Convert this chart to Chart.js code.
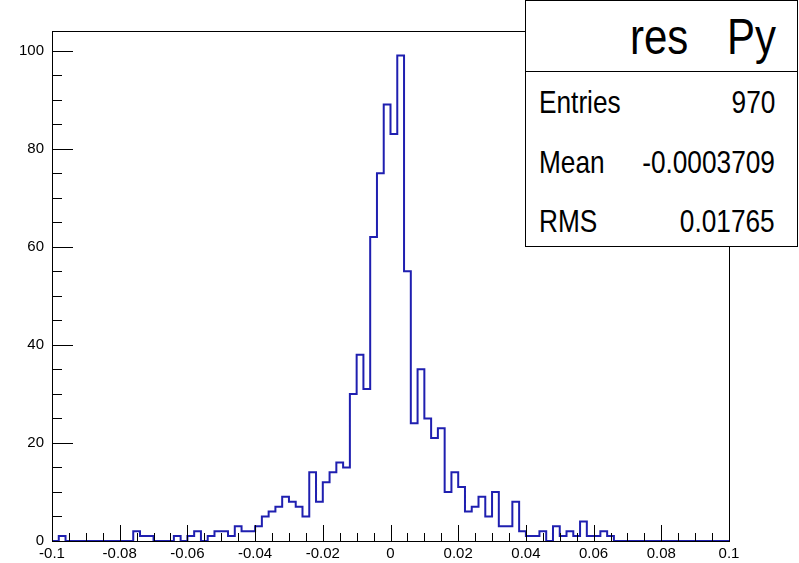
<!DOCTYPE html>
<html lang="en">
<head>
    <meta charset="UTF-8">
    <title>res Py</title>
    <script src="https://cdn.jsdelivr.net/npm/chart.js"></script>
    <style>
        body { margin: 0; background: #fff; }
        #wrap { position: relative; width: 799px; height: 563px; overflow: hidden; }
        #stats {
            position: absolute; left: 525px; top: 0px; width: 273px; height: 247px;
            background: #fff; border: 1px solid #000; box-sizing: border-box;
            font-family: "Liberation Sans", Arial, sans-serif;
            color: #000;
        }
        #stats div { position: absolute; line-height: 1; white-space: nowrap; }
        #stats .sep { left: 0; right: 0; top: 70px; height: 0; border-top: 1px solid #000; }
        #stats .title { font-size: 50px; top: 11px; transform: scaleX(0.84); transform-origin: left center; }
        #stats .row { font-size: 32px; transform: scaleX(0.82); }
        #stats .lab { left: 13px; transform-origin: left center; }
        #stats .val { right: 22px; transform-origin: right center; }
    </style>
</head>
<body>
<div id="wrap">
    <canvas id="histo" width="799" height="563"></canvas>
    <div id="stats"></div>
</div>

<script>
    // histogram binning: 100 bins from -0.1 to 0.1
    const xMin = -0.1;
    const xMax = 0.1;
    const binWidth = 0.002;
    const yMax = 104;

    // bin contents
    const counts = [
        0, 1, 0, 0, 0, 0, 0, 0, 0, 0,
        0, 0, 2, 1, 1, 0, 0, 0, 1, 0,
        1, 2, 0, 1, 2, 2, 1, 3, 2, 2,
        3, 5, 6, 7, 9, 8, 7, 5, 14, 8,
        12, 14, 16, 15, 30, 38, 31, 62, 75, 89,
        83, 99, 55, 24, 35, 25, 21, 23, 10, 14,
        11, 6, 7, 9, 5, 10, 3, 3, 8, 2,
        1, 1, 2, 0, 3, 1, 2, 1, 4, 1,
        1, 2, 1, 0, 0, 0, 0, 0, 0, 0,
        0, 0, 0, 0, 0, 0, 0, 0, 0, 0
    ];

    // stats box
    const histTitle = ['res', 'Py'];
    const statLabels = ['Entries', 'Mean', 'RMS'];
    const statValues = ['970', '-0.0003709', '0.01765'];

    // build the stats box
    const stats = document.getElementById('stats');
    stats.innerHTML =
        `<div class="title" style="left:104px">${histTitle[0]}</div>` +
        `<div class="title" style="left:201px">${histTitle[1]}</div>` +
        `<div class="sep"></div>`;
    statLabels.forEach((lab, i) => {
        const top = 85 + i * 59.5;
        stats.innerHTML +=
            `<div class="row lab" style="top:${top}px">${lab}</div>` +
            `<div class="row val" style="top:${top}px">${statValues[i]}</div>`;
    });

    // step outline points: left edge of each bin, plus the right end
    const points = counts.map((c, i) => ({ x: xMin + i * binWidth, y: c }));
    points.push({ x: xMax, y: counts[counts.length - 1] });

    // ROOT style frame with ticks inside
    const framePlugin = {
        id: 'frame',
        afterDatasetsDraw(chart) {
            const { ctx, chartArea: a, scales: { x, y } } = chart;
            ctx.save();
            ctx.strokeStyle = '#000';
            ctx.lineWidth = 1;
            ctx.strokeRect(Math.round(a.left) + 0.5, Math.round(a.top) + 0.5,
                Math.round(a.right - a.left), Math.round(a.bottom - a.top));
            ctx.beginPath();
            for (let k = 0; k <= 40; k++) {
                const v = xMin + k * 0.005;
                const px = Math.round(x.getPixelForValue(v)) + 0.5;
                const len = (k % 4 === 0) ? 16 : 8;
                ctx.moveTo(px, a.bottom);
                ctx.lineTo(px, a.bottom - len);
            }
            for (let k = 0; k * 5 <= 100; k++) {
                const py = Math.round(y.getPixelForValue(k * 5)) + 0.5;
                const len = (k % 4 === 0) ? 21 : 10;
                ctx.moveTo(a.left, py);
                ctx.lineTo(a.left + len, py);
            }
            ctx.stroke();
            ctx.restore();
        }
    };

    const tickFont = { family: '"Liberation Sans", Arial, sans-serif', size: 15 };

    new Chart(document.getElementById('histo').getContext('2d'), {
        type: 'line',
        data: {
            datasets: [{
                data: points,
                stepped: true,
                borderColor: '#1f1fb0',
                borderWidth: 2,
                pointRadius: 0,
                fill: false,
                clip: false
            }]
        },
        options: {
            responsive: false,
            animation: false,
            devicePixelRatio: 1,
            layout: { padding: { left: 0, right: 70, top: 31, bottom: 0 } },
            plugins: { legend: { display: false }, tooltip: { enabled: false } },
            scales: {
                x: {
                    type: 'linear',
                    min: xMin,
                    max: xMax,
                    grid: { display: false, drawTicks: false },
                    border: { display: false },
                    ticks: {
                        stepSize: 0.02,
                        autoSkip: false,
                        maxRotation: 0,
                        padding: 4,
                        color: '#000',
                        font: tickFont,
                        callback: v => String(Number(v.toFixed(2)))
                    },
                    afterFit: s => { s.height = 22; }
                },
                y: {
                    min: 0,
                    max: yMax,
                    grid: { display: false, drawTicks: false },
                    border: { display: false },
                    ticks: {
                        stepSize: 20,
                        includeBounds: false,
                        padding: 8,
                        color: '#000',
                        font: tickFont
                    },
                    afterFit: s => { s.width = 52; }
                }
            }
        },
        plugins: [framePlugin]
    });
</script>
</body>
</html>
